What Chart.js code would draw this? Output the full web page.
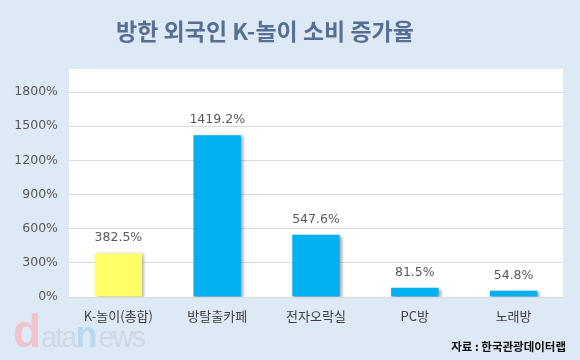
<!DOCTYPE html>
<html>
<head>
<meta charset="utf-8">
<script src="https://cdn.jsdelivr.net/npm/chart.js@4/dist/chart.umd.min.js"></script>
<style>
  html, body { margin: 0; padding: 0; background: #dde9f5; }
  #wrap { position: relative; width: 580px; height: 360px; overflow: hidden; }
  #c { position: absolute; left: 0; top: 0; }
  #title { position: absolute; left: -25px; width: 580px; top: 14px; text-align: center;
    font-family: "Noto Sans CJK KR", sans-serif; font-weight: 700; font-size: 23px; color: #566f94; line-height: 32px; }
  #source { position: absolute; right: 14px; top: 337px; font-family: "Noto Sans CJK KR", sans-serif;
    font-weight: 700; font-size: 11.5px; color: #111; line-height: 18px; }
  #wm { position: absolute; left: 13px; top: 308px; font-family: "Liberation Sans", Arial, sans-serif;
    font-size: 46px; line-height: 1; white-space: nowrap; color: #cfd8e3; }
  #wm .t { font-size: 29px; letter-spacing: -2px; }
  #wm .d { color: #efc5cb; font-weight: 700; font-size: 46px; }
  #wm .n { color: #b7d9f1; font-weight: 700; font-size: 36px; margin-right: 1px; }
</style>
</head>
<body>
<div id="wrap">
  <canvas id="c" width="580" height="360"></canvas>
  <div id="title">방한 외국인 K-놀이 소비 증가율</div>
  <div id="wm"><span class="d">d</span><span class="t">ata</span><span class="n">n</span><span class="t">ews</span></div>
  <div id="source">자료 : 한국관광데이터랩</div>
</div>
<script>
const categories = ["K-놀이(총합)", "방탈출카페", "전자오락실", "PC방", "노래방"];
const values = [382.5, 1419.2, 547.6, 81.5, 54.8];
const yTicks = [0, 300, 600, 900, 1200, 1500, 1800];
const barColors = ["#ffff66", "#00b0f0", "#00b0f0", "#00b0f0", "#00b0f0"];

const plotBg = {
  id: 'plotBg',
  beforeDraw(chart) {
    const { ctx, chartArea } = chart;
    ctx.save();
    ctx.fillStyle = '#ffffff';
    ctx.fillRect(chartArea.left, 69, chartArea.right - chartArea.left, chartArea.bottom - 69 + 1);
    ctx.restore();
  }
};

const barShadow = {
  id: 'barShadow',
  beforeDatasetDraw(chart) {
    const ctx = chart.ctx;
    ctx.save();
    ctx.shadowColor = 'rgba(0,0,0,0.35)';
    ctx.shadowOffsetX = 2;
    ctx.shadowOffsetY = 1;
    ctx.shadowBlur = 3;
  },
  afterDatasetDraw(chart) {
    chart.ctx.restore();
  }
};

const valueLabels = {
  id: 'valueLabels',
  afterDatasetsDraw(chart) {
    const ctx = chart.ctx;
    const meta = chart.getDatasetMeta(0);
    ctx.save();
    ctx.font = '12.5px "DejaVu Sans", sans-serif';
    ctx.fillStyle = '#595959';
    ctx.textAlign = 'center';
    ctx.textBaseline = 'bottom';
    meta.data.forEach((bar, i) => {
      ctx.fillText(values[i].toFixed(1) + '%', bar.x, bar.y - 9);
    });
    ctx.restore();
  }
};

new Chart(document.getElementById('c'), {
  type: 'bar',
  data: {
    labels: categories,
    datasets: [{
      data: values,
      backgroundColor: barColors,
      borderWidth: 0,
      barPercentage: 0.48,
      categoryPercentage: 1.0
    }]
  },
  options: {
    responsive: false,
    animation: false,
    devicePixelRatio: 1,
    layout: { padding: { top: 92, right: 17, bottom: 0, left: 0 } },
    plugins: { legend: { display: false }, tooltip: { enabled: false } },
    scales: {
      x: {
        grid: { display: false, drawTicks: false },
        border: { display: false },
        ticks: { color: '#404040', padding: 11, font: { family: '"Noto Sans CJK KR", sans-serif', size: 13 } },
        afterFit(s) { s.height = 63; }
      },
      y: {
        min: 0, max: 1800,
        afterBuildTicks(s) { s.ticks = yTicks.map(v => ({ value: v })); },
        grid: { color: '#d9d9d9', lineWidth: 1, drawTicks: false },
        border: { display: false },
        ticks: {
          color: '#595959', padding: 11,
          font: { family: '"DejaVu Sans", sans-serif', size: 12.5 },
          callback: v => v + '%'
        },
        afterFit(s) { s.width = 69; }
      }
    }
  },
  plugins: [plotBg, barShadow, valueLabels]
});
</script>
</body>
</html>
